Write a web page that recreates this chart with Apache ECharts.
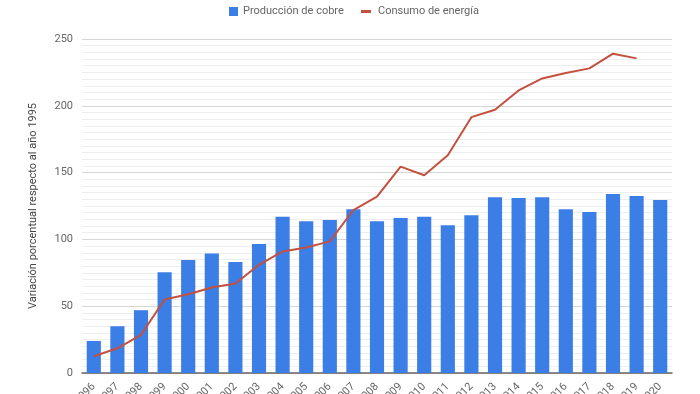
<!DOCTYPE html>
<html><head><meta charset="utf-8">
<script src="https://cdn.jsdelivr.net/npm/echarts@6/dist/echarts.min.js"></script>
<style>html,body{margin:0;padding:0;background:#fff}#c{width:700px;height:394px}</style>
</head><body><div id="c"></div>
<script>
const years = ['1996','1997','1998','1999','2000','2001','2002','2003','2004','2005','2006','2007','2008','2009','2010','2011','2012','2013','2014','2015','2016','2017','2018','2019','2020'];
const cobre = [24, 35, 47, 75.5, 84.5, 89.5, 83, 96.5, 117, 113.5, 114.5, 122.5, 113.5, 116, 117, 110.5, 118, 131.5, 131, 131.5, 122.5, 120.5, 134, 132.5, 129.5];
const energia = [12.5, 18.5, 28.5, 55, 59, 64, 67, 81, 91, 94, 98.5, 122, 132, 154.5, 148, 163, 191.5, 197, 211.5, 220.5, 224.5, 228, 239, 235.5, null];
const yTicks = {min: 0, max: 250, interval: 50};

const legendText = {fontFamily: 'Roboto', fontSize: 11, color: '#666'};
const chart = echarts.init(document.getElementById('c'));
chart.setOption({
  animation: false,
  legend: [
    {top: 1, left: 224, itemWidth: 9, itemHeight: 9, icon: 'rect', itemGap: 8,
     textStyle: legendText, data: ['Producción de cobre']},
    {top: 1, left: 356, itemWidth: 10, itemHeight: 3, icon: 'rect',
     textStyle: Object.assign({}, legendText, {padding: [0, 0, 0, 2]}), data: ['Consumo de energía']}
  ],
  grid: {left: 82, right: 28, top: 39, bottom: 21, containLabel: false, outerBoundsMode: 'none'},
  xAxis: {
    type: 'category', data: years,
    axisLine: {lineStyle: {color: '#666', width: 1.5}},
    axisTick: {show: false},
    axisLabel: {rotate: 45, interval: 0, margin: 12, fontFamily: 'Roboto', fontSize: 11, color: '#666'}
  },
  yAxis: {
    type: 'value', min: yTicks.min, max: yTicks.max, interval: yTicks.interval,
    name: 'Variación porcentual respecto al año 1995', nameLocation: 'middle', nameGap: 43,
    nameTextStyle: {fontFamily: 'Roboto', fontSize: 11, color: '#444'},
    axisLine: {show: false}, axisTick: {show: false},
    axisLabel: {fontFamily: 'Roboto', fontSize: 11, color: '#666', margin: 9},
    splitLine: {lineStyle: {color: '#d6d6d6', width: 1}},
    minorTick: {show: false, splitNumber: 10},
    minorSplitLine: {show: true, lineStyle: {color: '#eeeeee', width: 1}}
  },
  series: [
    {name: 'Producción de cobre', type: 'bar', data: cobre, barCategoryGap: '40%',
     itemStyle: {color: '#3b7ee6'}},
    {name: 'Consumo de energía', type: 'line', data: energia, symbol: 'none',
     lineStyle: {color: '#c4503f', width: 2}, itemStyle: {color: '#c4503f'}}
  ]
});
</script></body></html>
